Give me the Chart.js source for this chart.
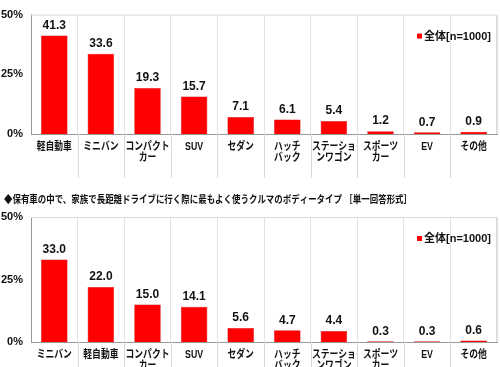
<!DOCTYPE html>
<html>
<head>
<meta charset="utf-8">
<script src="https://cdn.jsdelivr.net/npm/chart.js@4.4.0/dist/chart.umd.min.js"></script>
<style>
  body { margin: 0; background: #fff; }
  .box { position: absolute; left: 0; width: 500px; }
  #top { top: 0; height: 185px; }
  #bottom { top: 185px; height: 182px; }
</style>
</head>
<body>
<div class="box" id="top"><canvas id="chartOwned"></canvas></div>
<div class="box" id="bottom"><canvas id="chartDrive"></canvas></div>
<script>
const ownedLabels = [
  "軽自動車", "ミニバン", ["コンパクト", "カー"], "SUV", "セダン",
  ["ハッチ", "バック"], ["ステーショ", "ンワゴン"], ["スポーツ", "カー"], "EV", "その他"
];
const ownedValues = [41.3, 33.6, 19.3, 15.7, 7.1, 6.1, 5.4, 1.2, 0.7, 0.9];

const driveLabels = [
  "ミニバン", "軽自動車", ["コンパクト", "カー"], "SUV", "セダン",
  ["ハッチ", "バック"], ["ステーショ", "ンワゴン"], ["スポーツ", "カー"], "EV", "その他"
];
const driveValues = [33.0, 22.0, 15.0, 14.1, 5.6, 4.7, 4.4, 0.3, 0.3, 0.6];

const seriesName = "全体[n=1000]";
const yTicks = [0, 25, 50];
const driveTitle = "◆保有車の中で、家族で長距離ドライブに行く際に最もよく使うクルマのボディータイプ ［単一回答形式］";

const FONT = '"Liberation Sans", "Noto Sans CJK JP", sans-serif';
const RED = "#ff0000";

// frame, category labels, separators, value labels, legend, title
const decorations = {
  id: "decorations",
  afterDraw(chart, args, opts) {
    const ctx = chart.ctx;
    const area = chart.chartArea;
    const x = chart.scales.x;
    ctx.save();
    ctx.strokeStyle = "#d9d9d9";
    ctx.lineWidth = 1;
    ctx.beginPath();
    ctx.moveTo(area.left, area.top + 0.5);
    ctx.lineTo(area.right - 0.5, area.top + 0.5);
    ctx.lineTo(area.right - 0.5, area.bottom);
    ctx.stroke();
    ctx.beginPath();
    for (let i = 1; i < x.ticks.length; i++) {
      const bx = Math.round((x.getPixelForTick(i - 1) + x.getPixelForTick(i)) / 2) + 0.5;
      ctx.moveTo(bx, area.bottom);
      ctx.lineTo(bx, area.bottom + 44);
    }
    ctx.stroke();

    // category labels, a bit condensed like the original font
    ctx.fillStyle = "#111";
    ctx.font = "bold 11px " + FONT;
    ctx.textAlign = "center";
    ctx.textBaseline = "top";
    chart.data.labels.forEach((lab, i) => {
      const lines = Array.isArray(lab) ? lab : [lab];
      const cx = x.getPixelForTick(i);
      lines.forEach((t, j) => {
        ctx.save();
        ctx.translate(cx, area.bottom + 7 + j * 11.5);
        ctx.scale(0.8, 1);
        ctx.fillText(t, 0, 0);
        ctx.restore();
      });
    });

    // value labels
    ctx.font = "bold 12px " + FONT;
    ctx.textBaseline = "bottom";
    const meta = chart.getDatasetMeta(0);
    chart.data.datasets[0].data.forEach((v, i) => {
      const bar = meta.data[i];
      ctx.fillText(v.toFixed(1), bar.x, bar.y - 4);
    });

    // legend
    ctx.textAlign = "left";
    ctx.textBaseline = "middle";
    ctx.font = "bold 11px " + FONT;
    const ly = area.top + 22;
    const lx = area.right - 80;
    ctx.fillStyle = RED;
    ctx.fillRect(lx, ly - 3, 5, 5);
    ctx.fillStyle = "#111";
    ctx.fillText(chart.data.datasets[0].label, lx + 7, ly);

    // title
    if (opts.title) {
      ctx.font = "bold 10.5px " + FONT;
      const w = ctx.measureText(opts.title).width;
      ctx.save();
      ctx.translate(4, 15);
      ctx.scale(408 / w, 1);
      ctx.fillText(opts.title, 0, 0);
      ctx.restore();
    }
    ctx.restore();
  }
};

function makeChart(id, labels, values, padTop, axisHeight, title) {
  return new Chart(document.getElementById(id), {
    type: "bar",
    data: {
      labels: labels,
      datasets: [{
        label: seriesName,
        data: values,
        backgroundColor: RED,
        borderColor: "#d00000",
        borderWidth: 0.5,
        barPercentage: 0.57,
        categoryPercentage: 1
      }]
    },
    options: {
      responsive: true,
      maintainAspectRatio: false,
      animation: false,
      layout: { padding: { top: padTop, right: 3, left: 0, bottom: 0 } },
      plugins: {
        legend: { display: false },
        tooltip: { enabled: false },
        decorations: { title: title }
      },
      scales: {
        x: {
          grid: { color: "#e3e3e3", offset: true, drawTicks: false },
          border: { color: "#999" },
          ticks: { display: false },
          afterFit: s => { s.height = axisHeight; }
        },
        y: {
          min: 0,
          max: 50,
          afterBuildTicks: s => { s.ticks = yTicks.map(v => ({ value: v })); },
          grid: { display: false, drawTicks: false },
          border: { color: "#999" },
          ticks: {
            color: "#111",
            font: { family: FONT, size: 11, weight: "bold" },
            padding: 8,
            callback: v => v + "%"
          },
          afterFit: s => { s.width = 31; }
        }
      }
    },
    plugins: [decorations]
  });
}

makeChart("chartOwned", ownedLabels, ownedValues, 8, 51, null);
makeChart("chartDrive", driveLabels, driveValues, 32, 25, driveTitle);
</script>
</body>
</html>
